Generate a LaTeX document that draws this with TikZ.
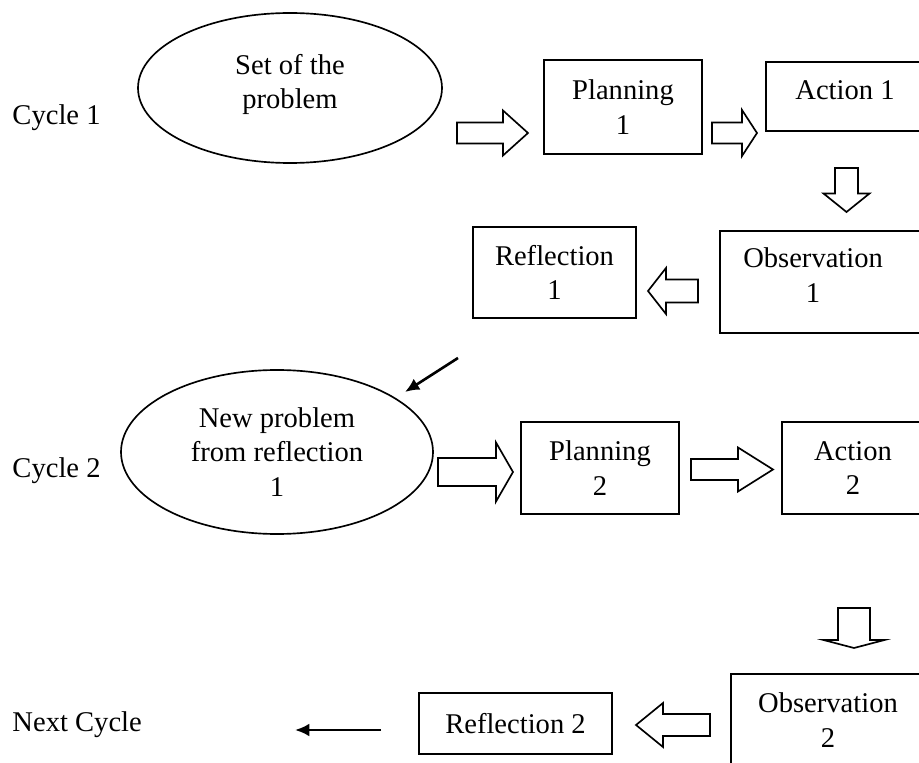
\documentclass[tikz,border=0pt]{standalone}
\usepackage{fontspec}
\setmainfont{Liberation Serif}
\usetikzlibrary{shapes.geometric,arrows.meta}
\newcommand\pxl{0.42pt}
% hollow block arrow: tail, angle, length, shaft half, head length, head half
\newcommand\blockarrow[6]{\draw[blockline, shift={(#1)}, rotate=#2] (0,-#4) -- ({#3-#5},-#4) -- ({#3-#5},-#6) -- (#3,0) -- ({#3-#5},#6) -- ({#3-#5},#4) -- (0,#4) -- cycle;}
\tikzset{
	box/.style={draw, rectangle, line width=0.75pt, inner sep=0pt, align=center},
	oval/.style={draw, ellipse, line width=0.7pt, inner sep=0pt, align=center},
	blockline/.style={line width=0.7pt, line join=miter, fill=white},
	thinarrow/.style={line width=1.1pt, -{Latex[length=6pt, width=5.4pt]}},
	cyclelab/.style={anchor=base west, inner sep=0pt}
}

\begin{document}
\begin{tikzpicture}[x=\pxl, y=-\pxl, font=\fontsize{12}{14.6}\selectfont]
			%%%%% START %%%%%
			\useasboundingbox (0,0) rectangle (919,763);
			\clip (0,0) rectangle (919,763);
			
			\node[cyclelab] (cyc1) at (12,125) {Cycle 1};
			\node[cyclelab] (cyc2) at (12,478) {Cycle 2};
			\node[cyclelab] (next) at (12,732) {Next Cycle};
			
			% cycle 1
			\node[oval, minimum width=304*\pxl, minimum height=150*\pxl, label={[align=center, yshift=1.5pt]center:{Set of the\\problem}}] (prob1) at (290,88) {};
			\node[box, minimum width=158*\pxl, minimum height=94*\pxl] (plan1) at (623,107) {Planning\\1};
			\node[box, minimum width=158*\pxl, minimum height=69*\pxl, label={[yshift=2.8pt]center:{Action 1}}] (act1) at (845,96.5) {};
			\node[box, minimum width=210*\pxl, minimum height=102*\pxl, label={[align=center, xshift=-5pt, yshift=2.8pt]center:{Observation\\1}}] (obs1) at (825,282) {};
			\node[box, minimum width=163*\pxl, minimum height=91*\pxl] (refl1) at (554.5,272.5) {Reflection\\1};
			
			\coordinate (a1) at (457,133);
			\coordinate (a2) at (712,133);
			\coordinate (a3) at (846.5,168);
			\coordinate (a4) at (698,291);
			\blockarrow{a1}{0}{71}{10.5}{25}{22.5}
			\blockarrow{a2}{0}{45}{10.5}{15}{23}
			\blockarrow{a3}{-90}{44}{11.5}{18.5}{23}
			\blockarrow{a4}{180}{50}{11.5}{18}{23}
			
			\coordinate (r1out) at (458,358);
			\coordinate (p2in) at (405,392);
			\draw[thinarrow] (r1out) -- (p2in);
			
			% cycle 2
			\node[oval, minimum width=312*\pxl, minimum height=164*\pxl] (prob2) at (277,452) {New problem\\from reflection\\1};
			\node[box, minimum width=158*\pxl, minimum height=92*\pxl] (plan2) at (600,468) {Planning\\2};
			\node[box, minimum width=142*\pxl, minimum height=92*\pxl] (act2) at (853,468) {Action\\2};
			\node[box, minimum width=194*\pxl, minimum height=92*\pxl] (obs2) at (828,720) {Observation\\2};
			\node[box, minimum width=193*\pxl, minimum height=61*\pxl] (refl2) at (515.5,723.5) {Reflection 2};
			
			\coordinate (a5) at (438,472);
			\coordinate (a6) at (691,469.5);
			\coordinate (a7) at (854,608);
			\coordinate (a8) at (710,725);
			\blockarrow{a5}{0}{75}{14}{17}{29.5}
			\blockarrow{a6}{0}{82}{10.5}{35}{22}
			\blockarrow{a7}{-90}{40}{16}{8}{30.5}
			\blockarrow{a8}{180}{74}{11}{27}{22}
			
			\coordinate (r2out) at (381,730);
			\coordinate (nextin) at (295,730);
			\draw[thinarrow] (r2out) -- (nextin);
			
			%%%%% END %%%%%
\end{tikzpicture}
\end{document}
